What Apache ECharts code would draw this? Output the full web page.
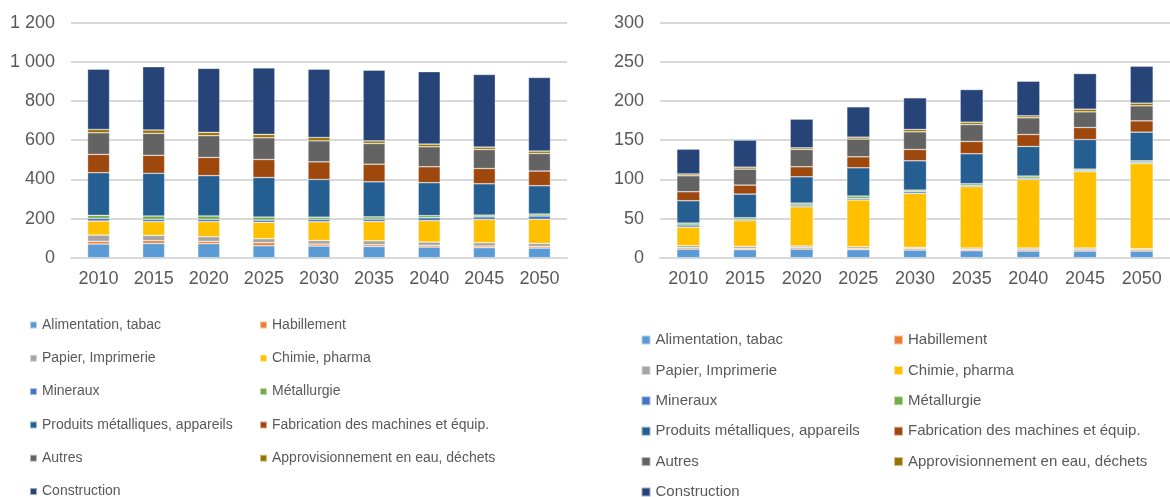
<!DOCTYPE html>
<html>
<head>
<meta charset="utf-8">
<script src="https://cdn.jsdelivr.net/npm/echarts@6/dist/echarts.min.js"></script>
<style>
  html, body { margin: 0; padding: 0; background: #fff; }
  #chart { width: 1170px; height: 497px; }
</style>
</head>
<body>
<div id="chart"></div>
<script>
// categories
const years = ['2010', '2015', '2020', '2025', '2030', '2035', '2040', '2045', '2050'];
const sectors = [
  'Alimentation, tabac', 'Habillement', 'Papier, Imprimerie', 'Chimie, pharma',
  'Mineraux', 'Métallurgie', 'Produits métalliques, appareils',
  'Fabrication des machines et équip.', 'Autres', 'Approvisionnement en eau, déchets',
  'Construction'
];
const palette = ['#5B9BD5', '#ED7D31', '#A5A5A5', '#FFC000', '#4472C4', '#70AD47',
  '#255E91', '#9E480E', '#636363', '#997300', '#264478'];

// tick labels
const leftTicks = [0, 200, 400, 600, 800, 1000, 1200];
const rightTicks = [0, 50, 100, 150, 200, 250, 300];

// left chart values
const alimL = [70, 73, 71.5, 61, 59.5, 57.5, 54.5, 51, 49.5];
const habL = [13.5, 14, 12, 15.5, 10, 8.5, 8.5, 8.5, 8.5];
const papL = [32, 27, 23.5, 20.5, 18.5, 20.5, 17, 17, 15.5];
const chimL = [71.5, 70, 77, 83.5, 95.5, 98.5, 109, 119, 122.5];
const minL = [14, 12, 12, 11.5, 12, 12, 15, 13, 17];
const metL = [15, 17, 17, 15.5, 11.5, 11.5, 10.5, 9, 10];
const prodL = [218, 218, 206, 202, 192.5, 179, 168.5, 160, 144.5];
const fabL = [93.5, 92, 93, 92, 90, 90, 81.5, 78, 75];
const autL = [110.5, 112, 111, 111, 107.5, 106, 102, 97, 90];
const eauL = [17, 17, 17, 17, 17, 13, 13.5, 12, 12];
const consL = [308, 323, 327, 340, 348.5, 361, 370, 371, 376];

// right chart values
const alimR = [11, 10.2, 11, 10.2, 9.8, 8.9, 8.5, 8.5, 8.5];
const habR = [1.8, 1.7, 1.8, 1.7, 1.7, 1.7, 1.7, 1.7, 1.7];
const papR = [2.5, 2.6, 2.1, 2.1, 1.7, 1.7, 2.1, 2.1, 1.3];
const chimR = [23.7, 32.7, 50.1, 59.6, 68.8, 78.3, 87.6, 97.4, 108.8];
const minR = [2.7, 1.7, 2.2, 2.1, 2.2, 1.7, 1.7, 1.3, 1.7];
const metR = [2.5, 2.1, 2.5, 3, 2.1, 2.1, 2.6, 2.1, 1.7];
const prodR = [28.5, 30.2, 33.6, 36.1, 37.4, 38.3, 37.8, 37.8, 36.6];
const fabR = [11.5, 11.5, 12.8, 14, 14.5, 15.7, 15.3, 15.3, 14.4];
const autR = [20.4, 20.4, 22.1, 22.6, 22.5, 21.6, 21.3, 20, 19.2];
const eauR = [2.3, 2.5, 2.1, 2.5, 3, 3, 2.5, 3.4, 3.4];
const consR = [31.7, 34.5, 36.6, 38.7, 40.4, 41.7, 44.2, 45.5, 47.2];

const leftData = [alimL, habL, papL, chimL, minL, metL, prodL, fabL, autL, eauL, consL];
const rightData = [alimR, habR, papR, chimR, minR, metR, prodR, fabR, autR, eauR, consR];

const font = "'Liberation Sans', Arial, sans-serif";
const textColor = '#595959';

function fmt (v) {
  return String(v).replace(/\B(?=(\d{3})+(?!\d))/g, ' ');
}

function xAxis (gridIndex) {
  return {
    type: 'category',
    gridIndex: gridIndex,
    data: years,
    axisLine: { lineStyle: { color: '#d9d9d9', width: 2 } },
    axisTick: { show: false },
    axisLabel: { color: textColor, fontSize: 18, fontFamily: font, margin: 12 }
  };
}

function yAxis (gridIndex, ticks) {
  return {
    type: 'value',
    gridIndex: gridIndex,
    min: ticks[0],
    max: ticks[ticks.length - 1],
    interval: ticks[1] - ticks[0],
    axisLine: { show: false },
    axisTick: { show: false },
    splitLine: { lineStyle: { color: '#d9d9d9', width: 2 } },
    axisLabel: { color: textColor, fontSize: 18, fontFamily: font, margin: 16, formatter: fmt }
  };
}

const series = [];
sectors.forEach((name, i) => {
  series.push({
    name: name,
    type: 'bar',
    stack: 'gauche',
    xAxisIndex: 0,
    yAxisIndex: 0,
    barWidth: 22,
    data: leftData[i],
    itemStyle: { color: palette[i], borderColor: 'rgba(255,255,255,0.55)', borderWidth: 0.6 }
  });
});
sectors.forEach((name, i) => {
  series.push({
    name: name,
    type: 'bar',
    stack: 'droite',
    xAxisIndex: 1,
    yAxisIndex: 1,
    barWidth: 23,
    data: rightData[i],
    itemStyle: { color: palette[i], borderColor: 'rgba(255,255,255,0.55)', borderWidth: 0.6 }
  });
});

// two legend columns, last item (Construction) on its own row
const col1 = sectors.filter((s, i) => i % 2 === 0 && i < 10);
const col2 = sectors.filter((s, i) => i % 2 === 1);
const last = [sectors[10]];

function legend (items, left, top, size, fontSize, gap) {
  return {
    orient: 'vertical',
    left: left,
    top: top,
    padding: 0,
    data: items,
    icon: 'rect',
    itemWidth: size,
    itemHeight: size,
    itemGap: gap,
    selectedMode: false,
    textStyle: { color: textColor, fontSize: fontSize, fontFamily: font, lineHeight: 16 }
  };
}

const chart = echarts.init(document.getElementById('chart'));
chart.setOption({
  animation: false,
  grid: [
    { left: 71, top: 22.7, width: 496, height: 235 },
    { left: 660, top: 22.7, width: 510, height: 235 }
  ],
  xAxis: [xAxis(0), xAxis(1)],
  yAxis: [yAxis(0, leftTicks), yAxis(1, rightTicks)],
  legend: [
    legend(col1, 29, 317, 7, 14, 17.3),
    legend(col2, 259, 317, 7, 14, 17.3),
    legend(last, 29, 483.5, 7, 14, 17.3),
    legend(col1, 640.5, 332, 9, 15, 14.4),
    legend(col2, 893, 332, 9, 15, 14.4),
    legend(last, 640.5, 484, 9, 15, 14.4)
  ],
  series: series
});
window.addEventListener('resize', function () {
  chart.resize();
});
</script>
</body>
</html>
